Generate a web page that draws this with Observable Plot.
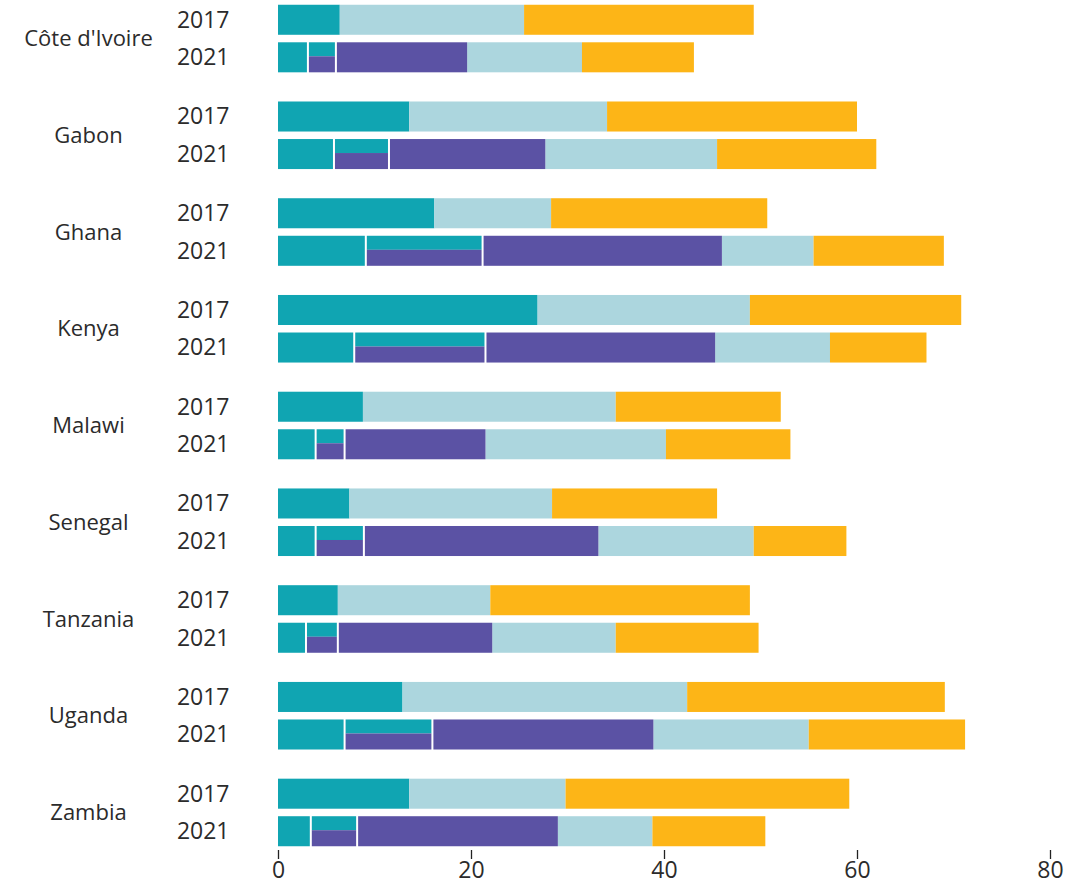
<!DOCTYPE html>
<html>
<head>
<meta charset="utf-8">
<script src="https://cdn.jsdelivr.net/npm/d3@7"></script>
<script src="https://cdn.jsdelivr.net/npm/@observablehq/plot@0.6"></script>
<style>
  html, body { margin: 0; padding: 0; background: #fff; }
  #chart svg { display: block; }
</style>
</head>
<body>
<div id="chart"></div>
<script>
// ---- data (percent) ----
const countries = ["Côte d'Ivoire", "Gabon", "Ghana", "Kenya", "Malawi", "Senegal", "Tanzania", "Uganda", "Zambia"];
const years = ["2017", "2021"];
const xTicks = [0, 20, 40, 60, 80];

// 2017 segments
const teal2017   = [6.4, 13.6, 16.2, 26.9, 8.8, 7.4, 6.2, 12.9, 13.6];
const light2017  = [19.1, 20.5, 12.1, 22.0, 26.2, 21.0, 15.8, 29.5, 16.2];
const orange2017 = [23.8, 25.9, 22.4, 21.9, 17.1, 17.1, 26.9, 26.7, 29.4];

// 2021 segments
const teal2021   = [3.1, 5.8, 9.1, 7.9, 3.9, 3.9, 2.9, 6.9, 3.4];
const split2021  = [2.9, 5.7, 12.1, 13.6, 3.0, 5.0, 3.3, 9.1, 4.8];
const purple2021 = [13.6, 16.2, 24.8, 23.8, 14.6, 24.3, 16.0, 22.9, 20.8];
const light2021  = [11.9, 17.8, 9.5, 11.9, 18.7, 16.1, 12.8, 16.1, 9.8];
const orange2021 = [11.6, 16.5, 13.5, 10.0, 12.9, 9.6, 14.8, 16.2, 11.7];

const segKeys = ["segA", "segC", "segD", "segE"];
const segColors = ["#10a5b2", "#5b52a4", "#acd6de", "#fdb517"];

// ---- build stacked table ----
const rows = [];
countries.forEach((c, i) => {
  let x = 0;
  [["segA", teal2017[i]], ["segD", light2017[i]], ["segE", orange2017[i]]].forEach(([seg, v]) => {
    rows.push({country: c, year: "2017", seg, x1: x, x2: x + v});
    x += v;
  });
  x = 0;
  [["segA", teal2021[i]], ["segB", split2021[i]], ["segC", purple2021[i]], ["segD", light2021[i]], ["segE", orange2021[i]]].forEach(([seg, v]) => {
    rows.push({country: c, year: "2021", seg, x1: x, x2: x + v});
    x += v;
  });
});

const is21 = d => d.year === "2021";
const plain = rows.filter(d => !(is21(d) && (d.seg === "segA" || d.seg === "segB" || d.seg === "segC")));
const teal21 = rows.filter(d => is21(d) && d.seg === "segA");
const split21 = rows.filter(d => is21(d) && d.seg === "segB");
const purple21 = rows.filter(d => is21(d) && d.seg === "segC");

const common = {x1: "x1", x2: "x2", y: "year", fy: "country"};

const chart = Plot.plot({
  width: 1091,
  height: 885,
  marginLeft: 278,
  marginRight: 41,
  marginTop: 1,
  marginBottom: 35,
  style: {fontFamily: "'Open Sans', sans-serif", fontSize: "23px", color: "#2b2b2b", background: "#fff"},
  x: {domain: [0, 80], label: null},
  y: {domain: years, paddingInner: 0.2, paddingOuter: 0.1, round: false, label: null},
  fy: {domain: countries, paddingInner: 0.224, paddingOuter: 0, round: false, label: null},
  color: {type: "ordinal", domain: segKeys, range: segColors},
  marks: [
    Plot.barX(plain, {...common, fill: "seg"}),
    Plot.barX(teal21, {...common, fill: "seg", insetRight: 1}),
    Plot.barX(split21, {...common, fill: segColors[0], insetLeft: 1, insetRight: 1, insetBottom: 16}),
    Plot.barX(split21, {...common, fill: segColors[1], insetLeft: 1, insetRight: 1, insetTop: 14}),
    Plot.barX(purple21, {...common, fill: "seg", insetLeft: 1}),
    Plot.axisX({ticks: xTicks, tickSize: 9, tickPadding: 2, tickFormat: d => d, stroke: "#222", strokeWidth: 1.3, fontSize: 23, label: null}),
    Plot.axisY({tickSize: 0, tickPadding: 49, fontSize: 23, label: null}),
    Plot.axisFy({anchor: "left", tickSize: 0, tickPadding: 190, textAnchor: "middle", fontSize: 22, label: null})
  ]
});

document.getElementById("chart").appendChild(chart);
</script>
</body>
</html>
